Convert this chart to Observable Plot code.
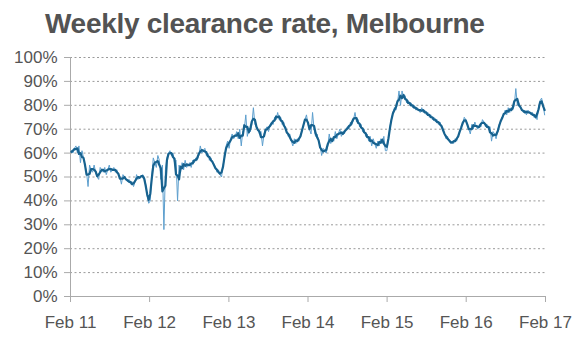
<!DOCTYPE html>
<html>
<head>
<meta charset="utf-8">
<script src="https://cdn.jsdelivr.net/npm/d3@7"></script>
<script src="https://cdn.jsdelivr.net/npm/@observablehq/plot@0.6"></script>
<style>
  html, body { margin: 0; padding: 0; background: #fff; }
  #title { height: 44px; padding-left: 45px; font-family: "Liberation Sans", Arial, sans-serif; font-weight: bold; font-size: 28px; letter-spacing: -0.3px; color: #535353; line-height: 48px; white-space: nowrap; overflow: hidden; }
  #chart svg { display: block; }
</style>
</head>
<body>
<div id="title">Weekly clearance rate, Melbourne</div>
<div id="chart"></div>
<script>
// Weekly clearance rate (%), one array per year starting early February
const y2011 = [61,60,62,63,60,63,56,61,58,55, 52,46,55,53,52,55,52,50,49,54, 53,52,54,51,53,55,52,53,54,52, 53,51,50,47,51,50,49,48,49,47, 48,46,48,51,49,50,50,51,50,47, 42,39];
const y2012 = [40,50,58,56,54,59,57,49,55,28, 53,58,60,61,59,60,56,57,40,55, 52,56,53,57,54,55,56,54,57,56, 58,57,59,63,60,61,62,59,60,57, 58,56,55,54,52,53,51,50,55,58, 63,65];
const y2013 = [62,66,68,66,67,69,66,70,63,69, 70,76,67,70,69,72,79,72,71,70, 68,69,63,68,70,71,69,72,73,72, 75,74,77,74,75,72,73,70,69,67, 68,65,63,66,64,66,65,67,69,72, 74,76];
const y2014 = [72,70,68,77,70,67,68,65,63,59, 62,61,60,63,68,64,66,65,69,66, 68,70,67,69,68,70,71,70,73,72, 74,77,73,74,71,72,69,70,67,68, 65,67,63,66,64,62,65,63,66,64, 67,61];
const y2015 = [61,66,71,74,77,79,78,81,86,80, 86,83,84,81,82,80,81,79,80,78, 79,78,77,79,77,78,76,77,75,76, 74,75,73,74,72,73,71,70,68,66, 67,65,64,65,64,66,65,67,69,71, 72,75];
const y2016 = [74,72,70,68,72,70,73,71,70,72, 71,74,73,71,72,70,71,65,69,68, 66,69,72,73,75,76,78,76,79,77, 79,78,80,87,80,81,79,78,77,78, 76,78,77,76,77,75,76,74,79,82, 83,80,76];

const firstWeek = "2011-02-05";
const xTickDates = ["2011-02-01","2012-02-01","2013-02-01","2014-02-01","2015-02-01","2016-02-01","2017-02-01"];
const xTickLabels = ["Feb 11","Feb 12","Feb 13","Feb 14","Feb 15","Feb 16","Feb 17"];
const yTicks = [0,10,20,30,40,50,60,70,80,90,100];

const values = [].concat(y2011, y2012, y2013, y2014, y2015, y2016);
const start = new Date(firstWeek);
const data = values.map((v, i) => ({date: d3.utcDay.offset(start, 7 * i), value: v}));
const xTicks = xTickDates.map(d => new Date(d));

const chart = Plot.plot({
  width: 580,
  height: 308,
  marginTop: 13,
  marginLeft: 70,
  marginRight: 35,
  marginBottom: 56,
  style: {fontFamily: "'Liberation Sans', Arial, sans-serif", fontSize: "17px", background: "#fff"},
  x: {type: "utc", domain: [xTicks[0], xTicks[xTicks.length - 1]]},
  y: {domain: [0, 100]},
  marks: [
    Plot.ruleY(yTicks.filter(d => d > 0), {stroke: "#9a9a9a", strokeDasharray: "2,2.5", strokeWidth: 1}),
    Plot.axisY({ticks: yTicks, tickFormat: d => d + "%", tickSize: 6, tickPadding: 7, stroke: "#aaa", fill: "#555", label: null}),
    Plot.axisX({ticks: xTicks, tickFormat: (d, i) => xTickLabels[i], tickSize: 6, tickPadding: 13, stroke: "#aaa", fill: "#555", label: null}),
    Plot.ruleX([xTicks[0]], {stroke: "#aaa"}),
    Plot.ruleY([0], {stroke: "#aaa"}),
    Plot.lineY(data, {x: "date", y: "value", stroke: "#5d9fce", strokeWidth: 1}),
    Plot.lineY(data, Plot.windowY({k: 3, anchor: "middle"}, {x: "date", y: "value", stroke: "#17628f", strokeWidth: 2.2}))
  ]
});
document.getElementById("chart").appendChild(chart);
</script>
</body>
</html>
